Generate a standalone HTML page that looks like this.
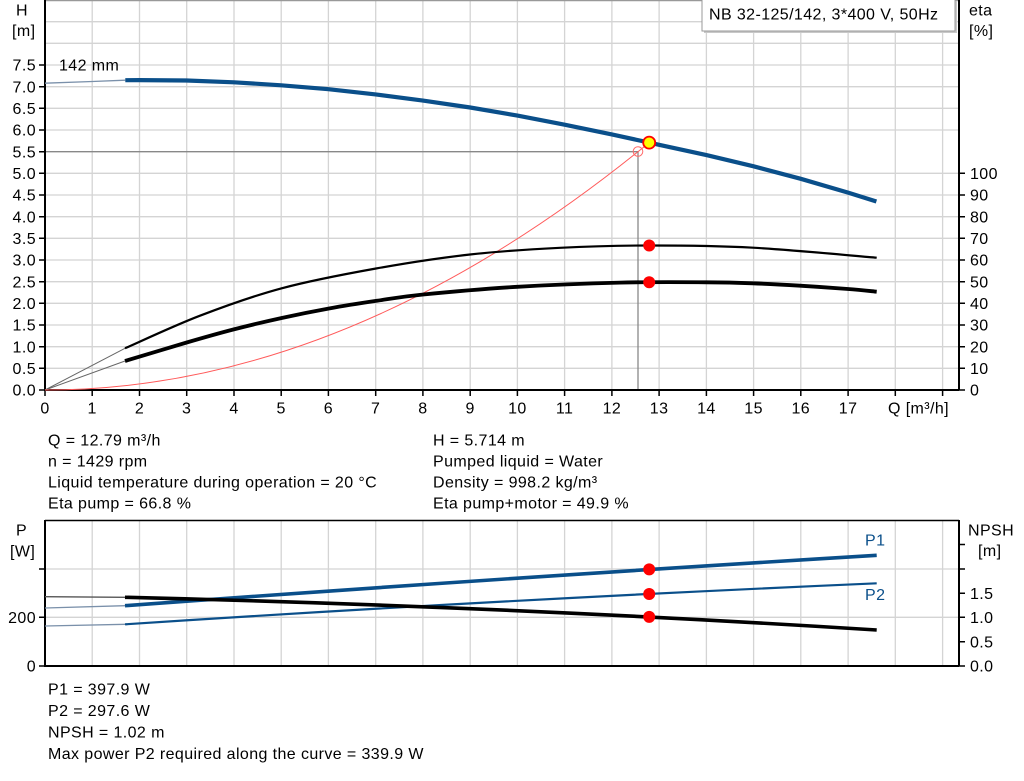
<!DOCTYPE html>
<html><head><meta charset="utf-8"><style>
html,body{margin:0;padding:0;background:#fff;}
svg{display:block;}
text{font-family:"Liberation Sans",Arial,sans-serif;font-size:16px;fill:#000;letter-spacing:0.4px;}
</style></head><body>
<svg width="1024" height="781" viewBox="0 0 1024 781" xmlns="http://www.w3.org/2000/svg">
<!-- ===== TOP CHART GRID ===== -->
<g stroke="#d4d4d4" stroke-width="1.3">
<path d="M92.2,0V390M139.5,0V390M186.7,0V390M234,0V390M281.2,0V390M328.4,0V390M375.7,0V390M422.9,0V390M470.2,0V390M517.4,0V390M564.6,0V390M611.9,0V390M659.1,0V390M706.4,0V390M753.6,0V390M800.8,0V390M848.1,0V390M895.3,0V390M942.6,0V390"/>
<path d="M45,21.7H959M45,43.3H959M45,65H959M45,86.7H959M45,108.3H959M45,130H959M45,173.3H959M45,195H959M45,216.7H959M45,238.3H959M45,260H959M45,281.7H959M45,303.3H959M45,325H959M45,346.7H959M45,368.3H959"/>
</g>
<path d="M45,0.5H959" stroke="#999" stroke-width="1.5"/>
<!-- operating guide lines -->
<path d="M45,151.7H638V390" stroke="#888" stroke-width="1.3" fill="none"/>
<!-- axes -->
<path d="M45,0V390H959M959,0V390" stroke="#000" stroke-width="2" fill="none"/>
<!-- ticks -->
<g stroke="#000" stroke-width="1.5">
<path d="M39,390H45M39,368.3H45M39,346.7H45M39,325H45M39,303.3H45M39,281.7H45M39,260H45M39,238.3H45M39,216.7H45M39,195H45M39,173.3H45M39,151.7H45M39,130H45M39,108.3H45M39,86.7H45M39,65H45"/>
<path d="M959,390H965M959,368.3H965M959,346.7H965M959,325H965M959,303.3H965M959,281.7H965M959,260H965M959,238.3H965M959,216.7H965M959,195H965M959,173.3H965"/>
<path d="M45,390V396M92.2,390V396M139.5,390V396M186.7,390V396M234,390V396M281.2,390V396M328.4,390V396M375.7,390V396M422.9,390V396M470.2,390V396M517.4,390V396M564.6,390V396M611.9,390V396M659.1,390V396M706.4,390V396M753.6,390V396M800.8,390V396M848.1,390V396M895.3,390V396M942.6,390V396"/>
</g>
<!-- left labels -->
<g text-anchor="end">
<text x="36" y="395.7">0.0</text><text x="36" y="374">0.5</text><text x="36" y="352.4">1.0</text><text x="36" y="330.7">1.5</text><text x="36" y="309">2.0</text><text x="36" y="287.4">2.5</text><text x="36" y="265.7">3.0</text><text x="36" y="244">3.5</text><text x="36" y="222.4">4.0</text><text x="36" y="200.7">4.5</text><text x="36" y="179">5.0</text><text x="36" y="157.4">5.5</text><text x="36" y="135.7">6.0</text><text x="36" y="114">6.5</text><text x="36" y="92.4">7.0</text><text x="36" y="70.7">7.5</text>
</g>
<text x="16" y="15.7">H</text>
<text x="12" y="36">[m]</text>
<!-- right labels -->
<g>
<text x="970" y="395.7">0</text><text x="970" y="374">10</text><text x="970" y="352.4">20</text><text x="970" y="330.7">30</text><text x="970" y="309">40</text><text x="970" y="287.4">50</text><text x="970" y="265.7">60</text><text x="970" y="244">70</text><text x="970" y="222.4">80</text><text x="970" y="200.7">90</text><text x="970" y="179">100</text>
</g>
<text x="969" y="15.7">eta</text>
<text x="969" y="36">[%]</text>
<!-- x labels -->
<g text-anchor="middle">
<text x="45" y="413.7">0</text><text x="92.2" y="413.7">1</text><text x="139.5" y="413.7">2</text><text x="186.7" y="413.7">3</text><text x="234" y="413.7">4</text><text x="281.2" y="413.7">5</text><text x="328.4" y="413.7">6</text><text x="375.7" y="413.7">7</text><text x="422.9" y="413.7">8</text><text x="470.2" y="413.7">9</text><text x="517.4" y="413.7">10</text><text x="564.6" y="413.7">11</text><text x="611.9" y="413.7">12</text><text x="659.1" y="413.7">13</text><text x="706.4" y="413.7">14</text><text x="753.6" y="413.7">15</text><text x="800.8" y="413.7">16</text><text x="848.1" y="413.7">17</text>
</g>
<text x="888" y="413.7">Q [m³/h]</text>
<!-- legend box -->
<rect x="704" y="1" width="253" height="32" fill="#c8c8c8"/>
<rect x="702" y="-1" width="253" height="32" fill="#fff" stroke="#999" stroke-width="1"/>
<text x="709" y="19.7">NB 32-125/142, 3*400 V, 50Hz</text>
<text x="59" y="70.7">142 mm</text>
<!-- curves -->
<path d="M45,390L125,348.3" stroke="#666" stroke-width="1" fill="none"/>
<path d="M45,390L125,361" stroke="#666" stroke-width="1" fill="none"/>
<path d="M45,390Q347.1,390 649.2,142.6" stroke="#ff5a5a" stroke-width="1" fill="none"/>
<path d="M45,83.2L92.2,81.5L125.3,80.2" stroke="#7a90aa" stroke-width="1.3" fill="none"/>
<path d="M125.3,80.2L139.5,80.1L186.7,80.5L234,82.3L281.2,85.3L328.4,89.2L375.7,94.4L422.9,100.6L470.2,107.5L517.4,115.6L564.6,124.7L611.9,134.4L649.2,142.6L659.1,144.8L706.4,155.1L753.6,166.3L800.8,178.8L848.1,192.6L876.4,201.5" stroke="#0a4f8a" stroke-width="4.2" fill="none"/>
<path d="M125,348.3 C137.5,342.87 173.88,325.7 200,315.7 C226.12,305.7 252.37,296.17 281.7,288.3 C311.03,280.43 344.62,274.13 376,268.5 C407.38,262.87 439.33,257.95 470,254.5 C500.67,251.05 530.17,249.3 560,247.8 C589.83,246.3 616.83,245.52 649,245.5 C681.17,245.48 715.05,245.67 753,247.7 C790.95,249.73 856.08,256.03 876.7,257.7" stroke="#000" stroke-width="2.2" fill="none"/>
<path d="M125,361 C135.28,357.92 168.65,347.75 186.7,342.5 C204.75,337.25 217.47,333.58 233.3,329.5 C249.13,325.42 265.75,321.5 281.7,318 C297.65,314.5 313.17,311.37 329,308.5 C344.83,305.63 360.98,303.13 376.7,300.8 C392.42,298.47 399.87,296.83 423.3,294.5 C446.73,292.17 484.52,288.78 517.3,286.8 C550.08,284.82 588.43,283.35 620,282.6 C651.57,281.85 684.53,282.18 706.7,282.3 C728.87,282.42 737.45,282.73 753,283.3 C768.55,283.87 784.17,284.75 800,285.7 C815.83,286.65 835.22,288 848,289 C860.78,290 871.92,291.25 876.7,291.7" stroke="#000" stroke-width="3.8" fill="none"/>
<circle cx="638" cy="151.5" r="4.8" fill="none" stroke="#ff6a6a" stroke-width="1"/>
<circle cx="649.2" cy="142.6" r="6" fill="#ffff00" stroke="#ff0000" stroke-width="1.8"/>
<circle cx="649.2" cy="245.5" r="6" fill="#ff0000"/>
<circle cx="649.2" cy="282.3" r="6" fill="#ff0000"/>
<!-- ===== TEXT BLOCK 1 ===== -->
<text x="48" y="445.7">Q = 12.79 m³/h</text>
<text x="48" y="466.7">n = 1429 rpm</text>
<text x="48" y="487.7">Liquid temperature during operation = 20 °C</text>
<text x="48" y="508.7">Eta pump = 66.8 %</text>
<text x="433" y="445.7">H = 5.714 m</text>
<text x="433" y="466.7">Pumped liquid = Water</text>
<text x="433" y="487.7">Density = 998.2 kg/m³</text>
<text x="433" y="508.7">Eta pump+motor = 49.9 %</text>
<!-- ===== BOTTOM CHART ===== -->
<g stroke="#d4d4d4" stroke-width="1.3">
<path d="M92.2,520V666M139.5,520V666M186.7,520V666M234,520V666M281.2,520V666M328.4,520V666M375.7,520V666M422.9,520V666M470.2,520V666M517.4,520V666M564.6,520V666M611.9,520V666M659.1,520V666M706.4,520V666M753.6,520V666M800.8,520V666M848.1,520V666M895.3,520V666M942.6,520V666"/>
<path d="M45,569H959M45,617.3H959"/>
</g>
<path d="M45,520.5H959" stroke="#000" stroke-width="1.5"/>
<path d="M45,520V666H959M959,520V666" stroke="#000" stroke-width="2" fill="none"/>
<g stroke="#000" stroke-width="1.5">
<path d="M39,569H45M39,617.3H45M39,666H45"/>
<path d="M959,544.5H965M959,569H965M959,593.3H965M959,617.3H965M959,641.7H965M959,666H965"/>
</g>
<text x="16" y="535.7">P</text>
<text x="10" y="556.7">[W]</text>
<g text-anchor="end">
<text x="36" y="623">200</text>
<text x="36" y="671.7">0</text>
</g>
<text x="968" y="535.7">NPSH</text>
<text x="978" y="556">[m]</text>
<text x="970" y="599">1.5</text>
<text x="970" y="623">1.0</text>
<text x="970" y="647.4">0.5</text>
<text x="970" y="671.7">0.0</text>
<!-- bottom curves -->
<path d="M45,608L125,605.7" stroke="#7a90aa" stroke-width="1.3" fill="none"/>
<path d="M45,626L125,624.3" stroke="#7a90aa" stroke-width="1.3" fill="none"/>
<path d="M45,596.7L125,597.3" stroke="#555" stroke-width="1.3" fill="none"/>
<path d="M125,605.7Q500.85,578.1 876.7,555.3" stroke="#0a4f8a" stroke-width="3.6" fill="none"/>
<path d="M125,624.3Q500.85,599.6 876.7,583.3" stroke="#0a4f8a" stroke-width="2.2" fill="none"/>
<path d="M125,597.3Q500.85,606.35 876.7,630" stroke="#000" stroke-width="3.6" fill="none"/>
<circle cx="649.2" cy="569.4" r="6" fill="#ff0000"/>
<circle cx="649.2" cy="594" r="6" fill="#ff0000"/>
<circle cx="649.2" cy="616.9" r="6" fill="#ff0000"/>
<text x="865" y="545.7" style="fill:#0a4f8a">P1</text>
<text x="865" y="600" style="fill:#0a4f8a">P2</text>
<!-- ===== TEXT BLOCK 2 ===== -->
<text x="48" y="694.7">P1 = 397.9 W</text>
<text x="48" y="716.2">P2 = 297.6 W</text>
<text x="48" y="737.7">NPSH = 1.02 m</text>
<text x="48" y="759.2">Max power P2 required along the curve = 339.9 W</text>
</svg>
</body></html>
